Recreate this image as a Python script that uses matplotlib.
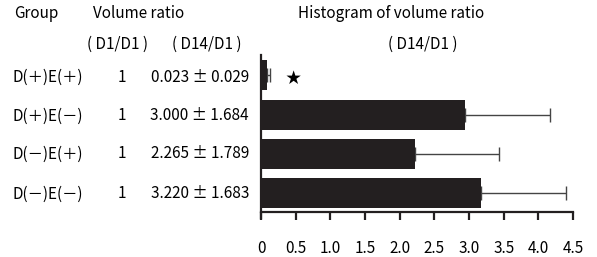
# -*- coding: utf-8 -*-

import matplotlib
matplotlib.use("Agg")
import matplotlib.pyplot as plt

plt.rcParams['font.family'] = ['Noto Sans CJK JP', 'DejaVu Sans']

groups = ["D(＋)E(＋)", "D(＋)E(－)", "D(－)E(＋)", "D(－)E(－)"]
ratio_d1 = ["1", "1", "1", "1"]
ratio_d14 = ["0.023 ± 0.029", "3.000 ± 1.684", "2.265 ± 1.789", "3.220 ± 1.683"]
# bar lengths and error bars as drawn in the histogram
bar_vals = [0.08, 2.94, 2.22, 3.17]
bar_errs = [0.05, 1.23, 1.21, 1.23]
xticks = [0, 0.5, 1.0, 1.5, 2.0, 2.5, 3.0, 3.5, 4.0, 4.5]
xticklabels = ["0", "0.5", "1.0", "1.5", "2.0", "2.5", "3.0", "3.5", "4.0", "4.5"]

W, H = 597, 257
fig = plt.figure(figsize=(W / 100, H / 100), dpi=100)


def px(x, y):
    return x / W, 1 - y / H


ax = fig.add_axes([261 / W, 1 - 212 / H, 312 / W, 157 / H])
ypos = list(range(len(groups)))
ax.barh(ypos, bar_vals, height=0.76, color="#231f20", zorder=2)
ax.errorbar(bar_vals, ypos, xerr=[[0] * 4, bar_errs], fmt="none",
            ecolor="#444444", elinewidth=1.0, capsize=5, capthick=1.0, zorder=1)
ax.set_xlim(0, 4.5)
ax.set_ylim(3.47, -0.51)
ax.set_xticks(xticks)
ax.set_xticklabels(xticklabels, fontsize=11)
ax.set_yticks([])
ax.spines["top"].set_visible(False)
ax.spines["right"].set_visible(False)
for s in ("left", "bottom"):
    ax.spines[s].set_linewidth(1.6)
    ax.spines[s].set_color("#231f20")
ax.spines["left"].set_bounds(3.62, -0.51)
ax.tick_params(axis="x", direction="out", length=6, width=1.6, pad=14, colors="#231f20")
ax.tick_params(axis="x", labelcolor="black")

# star marking the significant group
ax.text(0.46, 0.08, "★", fontsize=11, ha="center", va="center")

# table on the left
fs = 11
fig.text(*px(14, 14), "Group", fontsize=fs, va="center", ha="left")
fig.text(*px(93, 14), "Volume ratio", fontsize=fs, va="center", ha="left")
fig.text(*px(298, 14), "Histogram of volume ratio", fontsize=fs, va="center", ha="left")
fig.text(*px(87, 44), "( D1/D1 )", fontsize=fs, va="center", ha="left")
fig.text(*px(172, 44), "( D14/D1 )", fontsize=fs, va="center", ha="left")
fig.text(*px(423, 44), "( D14/D1 )", fontsize=fs, va="center", ha="center")

rows_y = [77, 116, 154, 194]
for g, a, b, y in zip(groups, ratio_d1, ratio_d14, rows_y):
    fig.text(*px(13, y), g, fontsize=fs, va="center", ha="left")
    fig.text(*px(122, y), a, fontsize=fs, va="center", ha="center")
    fig.text(*px(249, y), b, fontsize=fs, va="center", ha="right")

fig.savefig("out.png", dpi=100)
